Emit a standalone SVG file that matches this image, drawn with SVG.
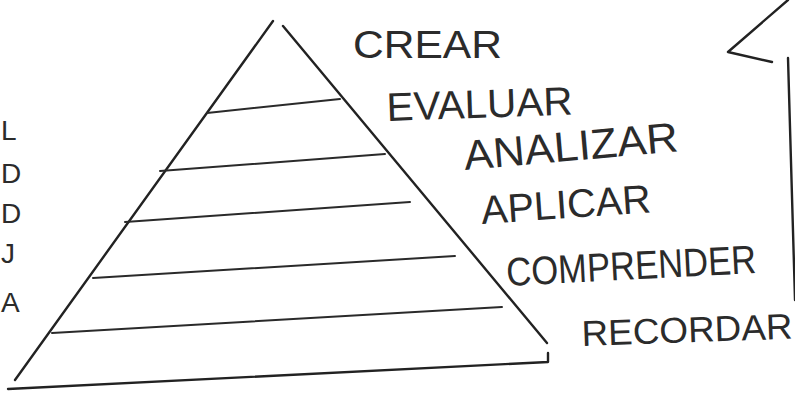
<svg xmlns="http://www.w3.org/2000/svg" width="795" height="393" viewBox="0 0 795 393">
<style>
.ink{fill:none;stroke:#222;stroke-width:2.4;stroke-linecap:round;stroke-linejoin:round}
.thin{fill:none;stroke:#2a2a2a;stroke-width:2;stroke-linecap:round}
.lbl{font-family:"Liberation Sans","DejaVu Sans",sans-serif;fill:#2b2b2b;font-weight:normal}
.frag{font-family:"Liberation Sans","DejaVu Sans",sans-serif;fill:#2b2b2b;font-size:28px}
</style>
<rect width="795" height="393" fill="#ffffff"/>
<g id="pyramid">
<path class="ink" d="M273,21 L15,380"/>
<path class="ink" d="M283,26 L547,343"/>
<path class="ink" d="M8,389 L548,362 L548,353"/>
<path class="thin" d="M207,113 L340,99"/>
<path class="thin" d="M160,171 L385,154"/>
<path class="thin" d="M125,222 L410,202"/>
<path class="thin" d="M93,278 L455,256"/>
<path class="thin" d="M52,333 L502,307"/>
</g>
<g id="label-crear"><text class="lbl" x="353" y="58" font-size="38" textLength="149" lengthAdjust="spacingAndGlyphs">CREAR</text></g>
<g id="label-evaluar"><text class="lbl" x="387" y="121" font-size="40" textLength="186" lengthAdjust="spacingAndGlyphs" transform="rotate(-2 387 121)">EVALUAR</text></g>
<g id="label-analizar"><text class="lbl" x="465" y="170" font-size="42" textLength="215" lengthAdjust="spacingAndGlyphs" transform="rotate(-5 465 170)">ANALIZAR</text></g>
<g id="label-aplicar"><text class="lbl" x="482" y="224" font-size="40" textLength="170" lengthAdjust="spacingAndGlyphs" transform="rotate(-4 482 224)">APLICAR</text></g>
<g id="label-comprender"><text class="lbl" x="507" y="286" font-size="40" textLength="250" lengthAdjust="spacingAndGlyphs" transform="rotate(-3 507 286)">COMPRENDER</text></g>
<g id="label-recordar"><text class="lbl" x="582" y="346" font-size="36" textLength="211" lengthAdjust="spacingAndGlyphs" transform="rotate(-2 582 346)">RECORDAR</text></g>
<g id="left-letters">
<text class="frag" x="1" y="140">L</text>
<text class="frag" x="1" y="183">D</text>
<text class="frag" x="1" y="223">D</text>
<text class="frag" x="1" y="263">J</text>
<text class="frag" x="1" y="312">A</text>
</g>
<g id="connectors">
<path class="ink" d="M788,58 L795,300"/>
<path class="ink" d="M788,0 L728,52 L772,62"/>
</g>
</svg>
